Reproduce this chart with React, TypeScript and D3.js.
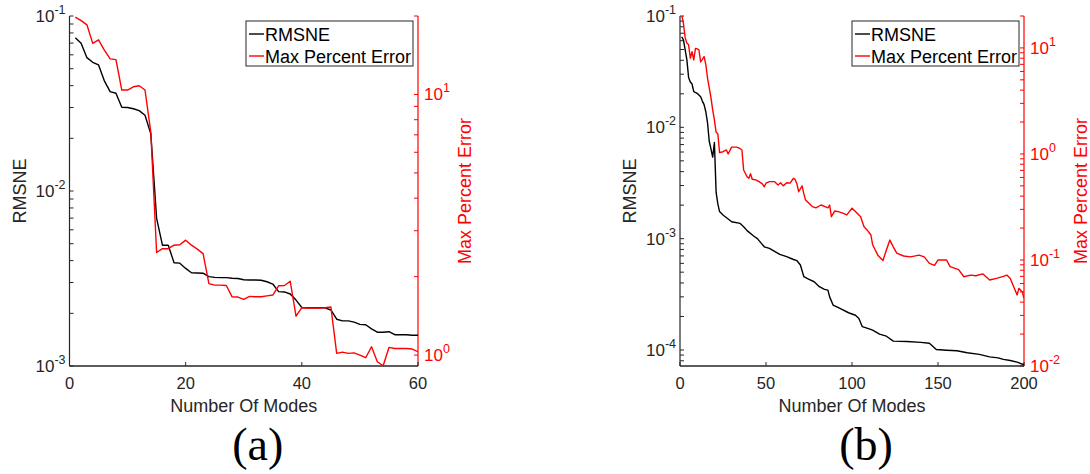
import React from "react";
import * as d3 from "d3";

// ---- Panel (a): 60 modes ----
const modesA = d3.range(1, 61);
const rmsneA = [
  0.0752, 0.0698, 0.0578, 0.0544, 0.0525, 0.0426, 0.037, 0.0362, 0.0301, 0.03,
  0.0295, 0.0288, 0.0271, 0.0212, 0.00698, 0.0049, 0.0049, 0.00389, 0.00387, 0.00361,
  0.00341, 0.0034, 0.00339, 0.00324, 0.00321, 0.0032, 0.0032, 0.00317, 0.00316, 0.00311,
  0.0031, 0.0031, 0.00309, 0.00303, 0.00294, 0.00266, 0.00265, 0.00258, 0.00238, 0.00216,
  0.00215, 0.00215, 0.00215, 0.00215, 0.00209, 0.00185, 0.00181, 0.00181, 0.00178, 0.00173,
  0.00172, 0.00163, 0.00156, 0.00156, 0.00157, 0.00151, 0.00151, 0.00151, 0.0015, 0.0015,
];
const maxErrA = [
  19.8, 19.2, 18.5, 15.7, 16.2, 14.8, 13.7, 13.6, 10.4, 10.4,
  10.7, 10.8, 10.4, 7.17, 2.475, 2.56, 2.56, 2.64, 2.65, 2.76,
  2.64, 2.55, 2.45, 1.88, 1.855, 1.855, 1.85, 1.673, 1.67, 1.635,
  1.68, 1.675, 1.675, 1.688, 1.7, 1.844, 1.85, 1.92, 1.41, 1.52,
  1.515, 1.515, 1.515, 1.52, 1.53, 1.015, 1.027, 1.015, 1.02, 1.0,
  0.977, 1.076, 0.943, 0.91, 1.07, 1.06, 1.06, 1.06, 1.055, 1.03,
];

// ---- Panel (b): 200 modes ----
const modesRmsneB = [
  1, 2, 4, 5, 6, 7, 8, 10, 12, 13, 14, 15, 16, 17, 18, 19, 20, 21, 22, 23,
  25, 28, 30, 35, 37, 39, 43, 45, 49, 52, 55, 58, 62, 66, 68, 70, 72, 75, 78, 81,
  84, 86, 87, 89, 93, 98, 102, 104, 106, 110, 112, 116, 120, 124, 132, 140, 145, 149, 155, 161,
  167, 174, 180, 185, 188, 192, 196, 200,
];
const rmsneB = [
  0.065, 0.061, 0.0403, 0.028, 0.0255, 0.0245, 0.0209, 0.0202, 0.0188, 0.0172,
  0.016, 0.0138, 0.011, 0.0075, 0.0064, 0.0054, 0.0073, 0.0026, 0.00205, 0.00175,
  0.00163, 0.0015, 0.00142, 0.00137, 0.00128, 0.00118, 0.00105, 0.001, 0.000845, 0.000818,
  0.00077, 0.000723, 0.000689, 0.00065, 0.000634, 0.00058, 0.000455, 0.00043, 0.00041, 0.00037,
  0.00035, 0.000345, 0.0003, 0.000253, 0.000236, 0.000216, 0.000205, 0.000192, 0.000162, 0.000155,
  0.000151, 0.000139, 0.000133, 0.00012, 0.000119, 0.000117, 0.000115, 0.000101, 0.0000995, 0.0000983,
  0.0000944, 0.0000913, 0.0000868, 0.000085, 0.0000823, 0.0000805, 0.0000778, 0.0000735,
];
const modesErrB = [
  1, 2, 3, 4, 5, 6, 7, 8, 9, 10, 11, 12, 13, 14, 15, 16, 17, 18, 19, 20,
  21, 22, 23, 25, 27, 28, 30, 33, 35, 36, 37, 39, 40, 41, 42, 44, 46, 48, 49, 50,
  52, 55, 57, 58.5, 60, 62, 64, 66, 67, 68, 69, 71, 72, 73, 75, 77, 79, 82, 84, 86,
  87, 88, 90, 92, 95, 97, 100, 102, 105, 107, 109, 111, 112, 115, 118, 120, 122, 124, 126, 130,
  134, 139, 142, 145, 148, 150, 155, 157, 162, 165, 169, 172, 176, 180, 184, 188, 190, 192, 194, 196,
  197, 199, 200,
];
const maxErrB = [
  20.5, 17, 12.5, 11.1, 10.7, 8.0, 9.2, 7.7, 9.9, 9.8, 9.6, 7.4, 7.8, 8.3, 7.0, 5.2, 4.2, 3.4, 2.6, 2.1,
  1.6, 1.55, 1.03, 1.05, 1.09, 1.0, 1.16, 1.16, 1.12, 1.09, 0.706, 0.61, 0.59, 0.65, 0.577, 0.57, 0.548, 0.52, 0.49, 0.53,
  0.548, 0.548, 0.51, 0.535, 0.5, 0.535, 0.53, 0.59, 0.57, 0.52, 0.44, 0.5, 0.42, 0.368, 0.342, 0.318, 0.31, 0.33, 0.32, 0.31,
  0.33, 0.256, 0.29, 0.286, 0.275, 0.266, 0.308, 0.286, 0.256, 0.206, 0.19, 0.172, 0.139, 0.111, 0.099, 0.124, 0.154, 0.133, 0.116, 0.109,
  0.107, 0.111, 0.107, 0.093, 0.089, 0.1, 0.1, 0.0865, 0.081, 0.0695, 0.072, 0.071, 0.074, 0.0647, 0.067, 0.07, 0.072, 0.067, 0.056, 0.0468,
  0.054, 0.05, 0.0436,
];

const xTicksA = [0, 20, 40, 60];
const xTicksB = [0, 50, 100, 150, 200];
const leftExpA = [-3, -2, -1];
const rightExpA = [0, 1];
const leftExpB = [-4, -3, -2, -1];
const rightExpB = [-2, -1, 0, 1];
const legendLabels = ["RMSNE", "Max Percent Error"];
const panelLabels = ["(a)", "(b)"];

const FONT = "'Liberation Sans', Arial, Helvetica, sans-serif";
const AX = "#262626";
const RED = "#ff0000";

function logTicks(domain: [number, number]) {
  const out: number[] = [];
  const lo = Math.floor(Math.log10(domain[0]));
  const hi = Math.ceil(Math.log10(domain[1]));
  for (let k = lo; k <= hi; k++) {
    for (let m = 1; m <= 9; m++) {
      const v = m * Math.pow(10, k);
      if (v >= domain[0] * 0.9999 && v <= domain[1] * 1.0001) out.push(v);
    }
  }
  return out;
}

type PanelProps = {
  id: string;
  x0: number;
  x1: number;
  xDomain: [number, number];
  xTicks: number[];
  leftDomain: [number, number];
  rightDomain: [number, number];
  leftExp: number[];
  rightExp: number[];
  xs1: number[];
  ys1: number[];
  xs2: number[];
  ys2: number[];
  label: string;
  rightLabelX: number;
  leftLabelX: number;
};

function Panel(p: PanelProps) {
  const top = 16;
  const bottom = 366;
  const x = d3.scaleLinear().domain(p.xDomain).range([p.x0, p.x1]);
  const yl = d3.scaleLog().domain(p.leftDomain).range([bottom, top]);
  const yr = d3.scaleLog().domain(p.rightDomain).range([bottom, top]);
  const line1 = d3
    .line<number>()
    .x((_, i) => x(p.xs1[i]))
    .y((d) => yl(d));
  const line2 = d3
    .line<number>()
    .x((_, i) => x(p.xs2[i]))
    .y((d) => yr(d));
  const tl = 4;
  const boxW = 167;
  const boxX = p.x1 - 5 - boxW;
  const boxY = 21;
  const cx = (p.x0 + p.x1) / 2;
  return (
    <g>
      <defs>
        <clipPath id={"clip-" + p.id}>
          <rect x={p.x0} y={top} width={p.x1 - p.x0} height={bottom - top} />
        </clipPath>
      </defs>
      {/* left log axis */}
      <line x1={p.x0} x2={p.x0} y1={top} y2={bottom} stroke={AX} strokeWidth={1.2} />
      {logTicks(p.leftDomain).map((v, i) => (
        <line key={"lt" + i} x1={p.x0} x2={p.x0 + tl} y1={yl(v)} y2={yl(v)} stroke={AX} strokeWidth={1} />
      ))}
      {p.leftExp.map((e) => (
        <text key={"ll" + e} x={p.x0 - 4} y={yl(Math.pow(10, e)) + 6} textAnchor="end" fontFamily={FONT} fontSize={17} fill={AX}>
          <tspan>10</tspan>
          <tspan dy={-8} fontSize={12.5}>{String(e)}</tspan>
        </text>
      ))}
      {/* right log axis */}
      <line x1={p.x1} x2={p.x1} y1={top} y2={bottom} stroke={RED} strokeWidth={1.2} />
      {logTicks(p.rightDomain).map((v, i) => (
        <line key={"rt" + i} x1={p.x1} x2={p.x1 - tl} y1={yr(v)} y2={yr(v)} stroke={RED} strokeWidth={1} />
      ))}
      {p.rightExp.map((e) => (
        <text key={"rl" + e} x={p.x1 + 6} y={yr(Math.pow(10, e)) + 6} textAnchor="start" fontFamily={FONT} fontSize={17} fill={RED}>
          <tspan>10</tspan>
          <tspan dy={-8} fontSize={12.5}>{String(e)}</tspan>
        </text>
      ))}
      {/* x axis */}
      <line x1={p.x0} x2={p.x1} y1={bottom} y2={bottom} stroke={AX} strokeWidth={1.5} />
      {p.xTicks.map((t) => (
        <g key={"xt" + t}>
          <line x1={x(t)} x2={x(t)} y1={bottom} y2={bottom - tl} stroke={AX} strokeWidth={1} />
          <text x={x(t)} y={389} textAnchor="middle" fontFamily={FONT} fontSize={16.5} fill={AX}>
            {t}
          </text>
        </g>
      ))}
      {/* data */}
      <g clipPath={`url(#clip-${p.id})`}>
        <path d={line1(p.ys1) || ""} fill="none" stroke="#000" strokeWidth={1.4} strokeLinejoin="round" />
        <path d={line2(p.ys2) || ""} fill="none" stroke={RED} strokeWidth={1.4} strokeLinejoin="round" />
      </g>
      {/* axis titles */}
      <text transform={`translate(${p.leftLabelX},${(top + bottom) / 2}) rotate(-90)`} textAnchor="middle" fontFamily={FONT} fontSize={18} fill={AX}>
        RMSNE
      </text>
      <text transform={`translate(${p.rightLabelX},${(top + bottom) / 2}) rotate(-90)`} textAnchor="middle" fontFamily={FONT} fontSize={18} fill={RED}>
        Max Percent Error
      </text>
      <text x={cx} y={412} textAnchor="middle" fontFamily={FONT} fontSize={18} fill={AX}>
        Number Of Modes
      </text>
      {/* legend */}
      <rect x={boxX} y={boxY} width={boxW} height={45} fill="#fff" stroke={AX} strokeWidth={1} />
      <line x1={boxX + 3} x2={boxX + 18} y1={boxY + 13} y2={boxY + 13} stroke="#000" strokeWidth={1.4} />
      <text x={boxX + 19} y={boxY + 19.5} fontFamily={FONT} fontSize={18} fill="#000">
        {legendLabels[0]}
      </text>
      <line x1={boxX + 3} x2={boxX + 18} y1={boxY + 35} y2={boxY + 35} stroke={RED} strokeWidth={1.4} />
      <text x={boxX + 19} y={boxY + 41.5} fontFamily={FONT} fontSize={18} fill="#000">
        {legendLabels[1]}
      </text>
      {/* panel label */}
      <text x={cx + 14} y={460} textAnchor="middle" fontFamily="'Liberation Serif', 'Times New Roman', serif" fontSize={46} fill="#000">
        {p.label}
      </text>
    </g>
  );
}

export default function App() {
  return (
    <svg width={1090} height={474} style={{ position: "absolute", left: 0, top: 0, background: "#fff" }}>
      <rect width={1090} height={474} fill="#fff" />
      <Panel
        id="a"
        x0={69.5}
        x1={418}
        xDomain={[0, 60]}
        xTicks={xTicksA}
        leftDomain={[0.001, 0.1]}
        rightDomain={[0.908, 20]}
        leftExp={leftExpA}
        rightExp={rightExpA}
        xs1={modesA}
        ys1={rmsneA}
        xs2={modesA}
        ys2={maxErrA}
        label={panelLabels[0]}
        leftLabelX={26}
        rightLabelX={471}
      />
      <Panel
        id="b"
        x0={680}
        x1={1024}
        xDomain={[0, 200]}
        xTicks={xTicksB}
        leftDomain={[0.0000718, 0.1]}
        rightDomain={[0.01, 20]}
        leftExp={leftExpB}
        rightExp={rightExpB}
        xs1={modesRmsneB}
        ys1={rmsneB}
        xs2={modesErrB}
        ys2={maxErrB}
        label={panelLabels[1]}
        leftLabelX={636}
        rightLabelX={1087}
      />
    </svg>
  );
}
